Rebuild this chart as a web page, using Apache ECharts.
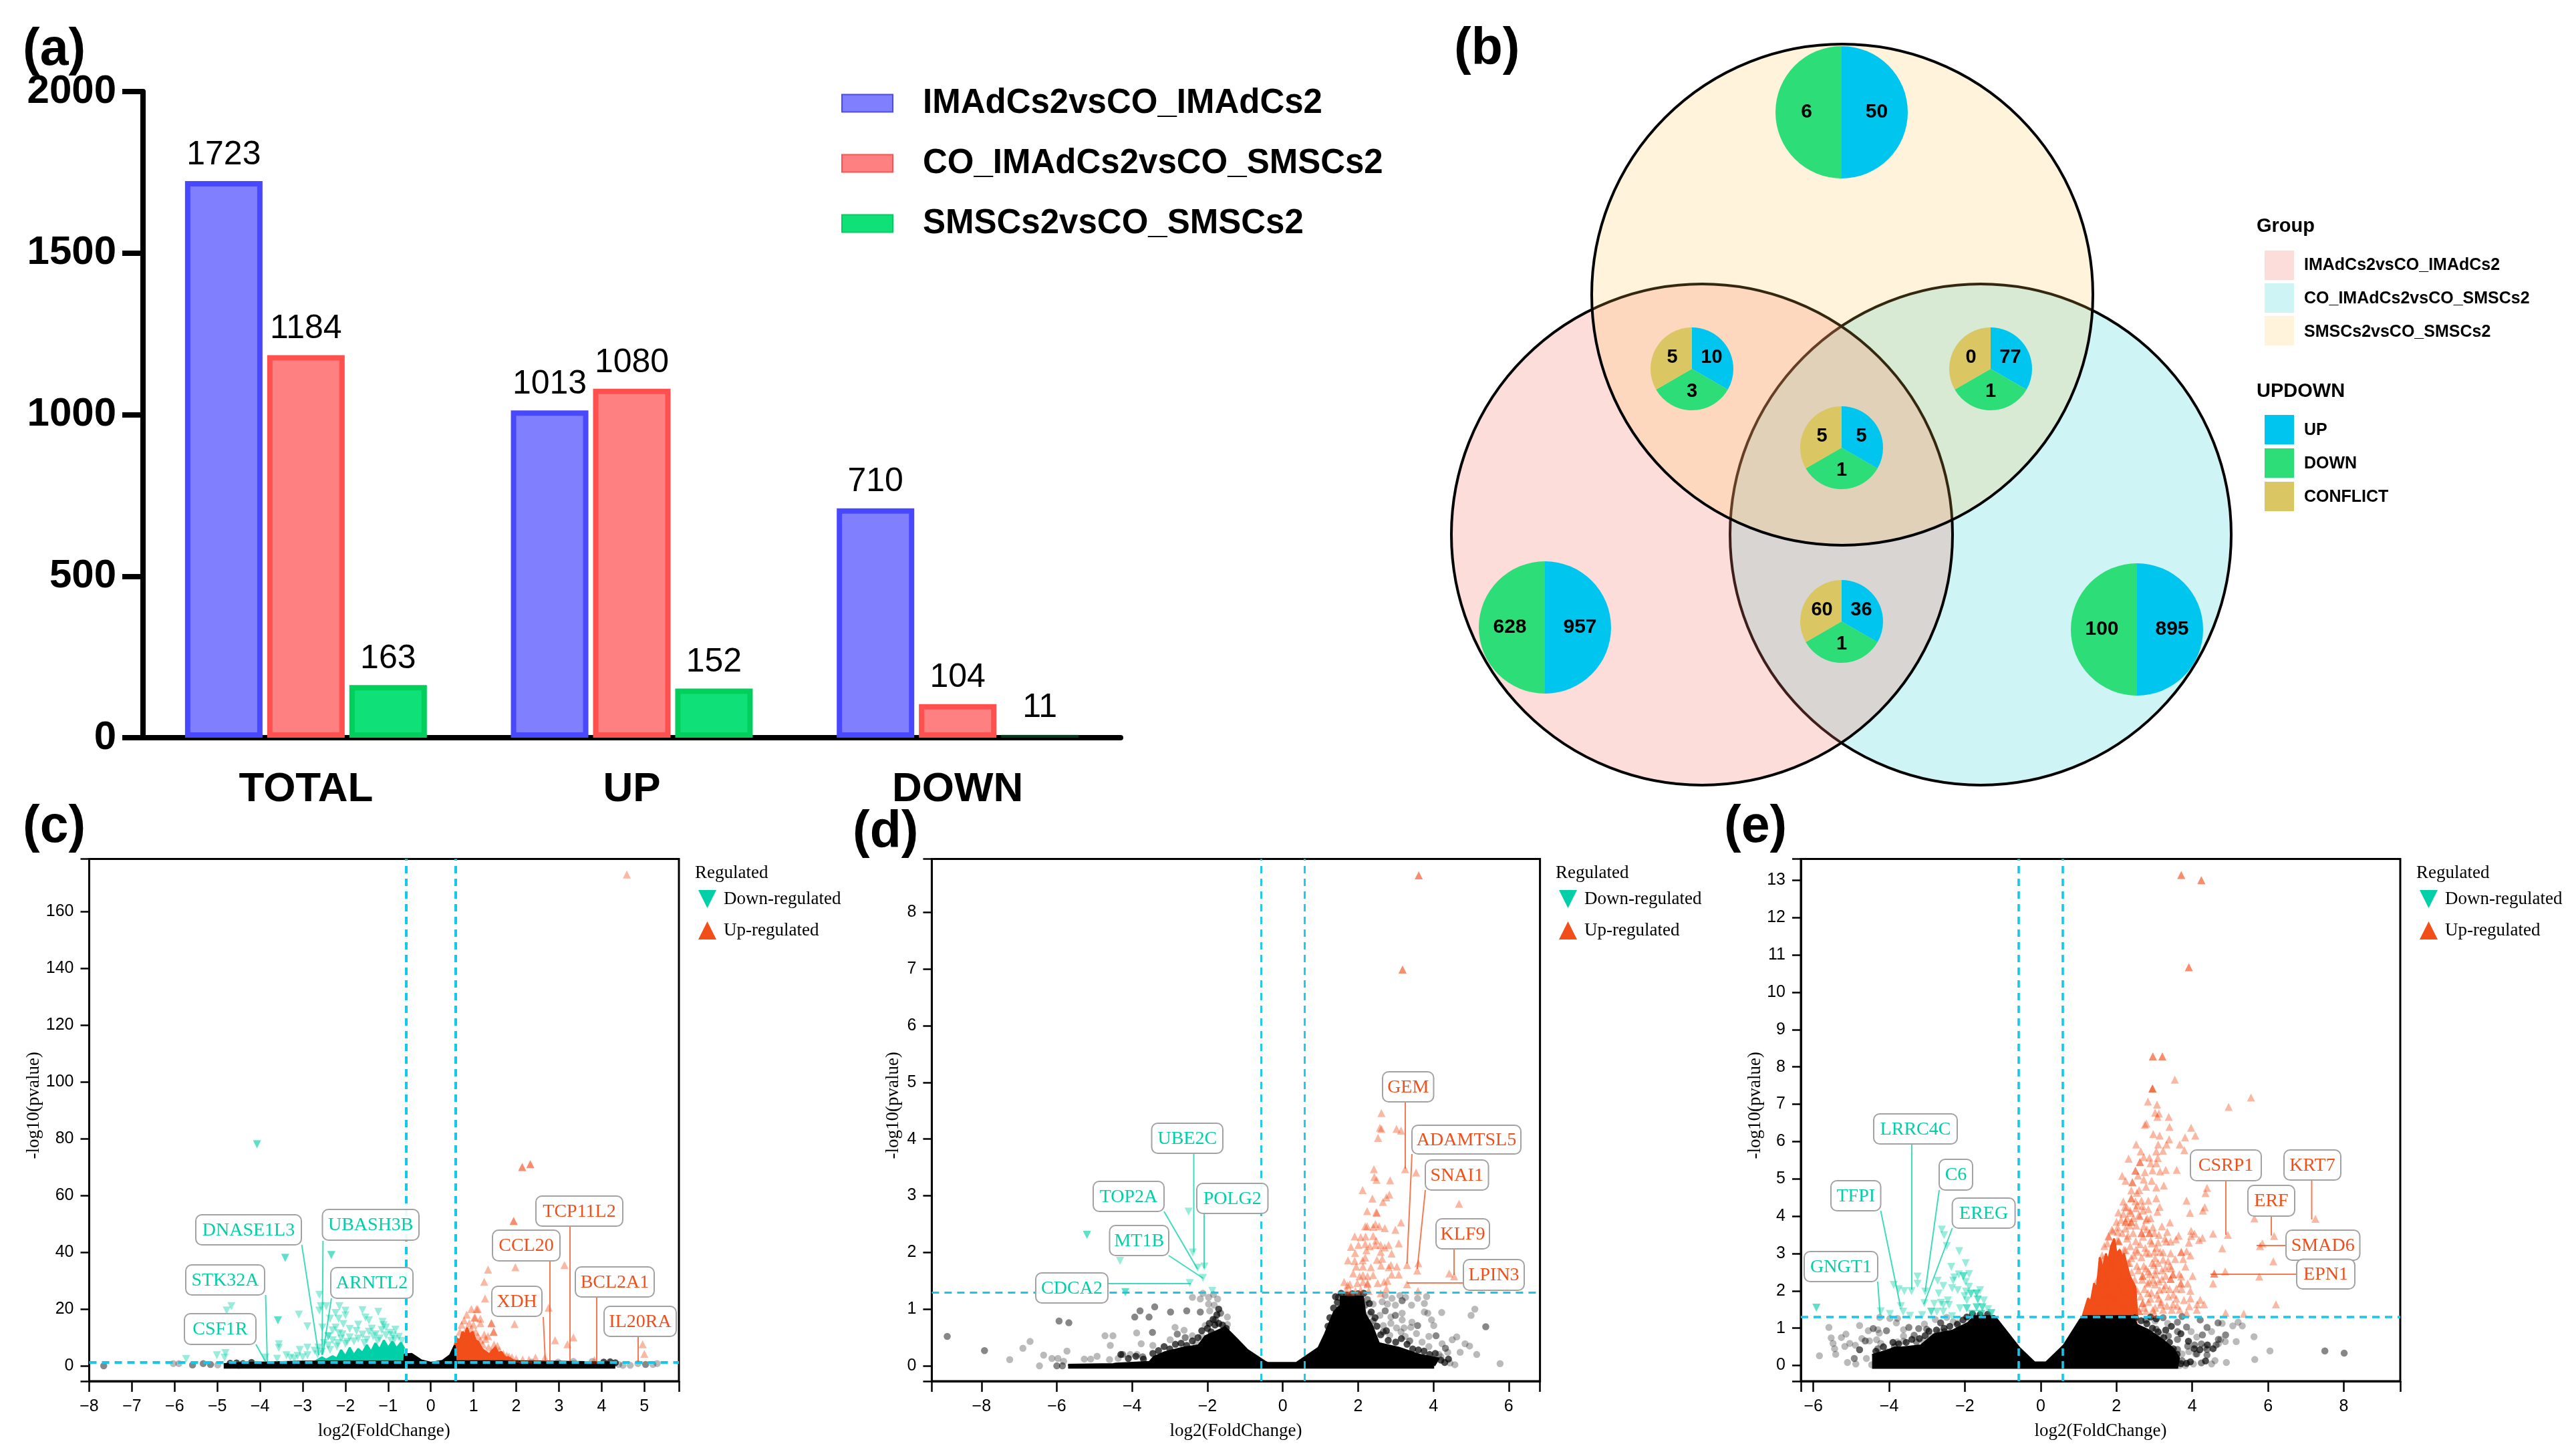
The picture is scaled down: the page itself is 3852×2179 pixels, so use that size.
<!DOCTYPE html>
<html><head><meta charset="utf-8">
<style>html,body{margin:0;padding:0;background:#fff}#c{width:3852px;height:2179px}</style>
<script src="https://cdn.jsdelivr.net/npm/echarts@6/dist/echarts.min.js"></script>
</head><body><div id="c"></div>
<script>
// ---------- panel (a) ----------
const barCategories=['TOTAL','UP','DOWN'];
const barNames=['IMAdCs2vsCO_IMAdCs2','CO_IMAdCs2vsCO_SMSCs2','SMSCs2vsCO_SMSCs2'];
const barImad=[1723,1013,710];
const barCoImad=[1184,1080,104];
const barSmsc=[163,152,11];
// ---------- panel (b) ----------
const vennNames=['IMAdCs2vsCO_IMAdCs2','CO_IMAdCs2vsCO_SMSCs2','SMSCs2vsCO_SMSCs2'];
const updownNames=['UP','DOWN','CONFLICT'];
const countTop=[50,6];
const countLeft=[957,628];
const countRight=[895,100];
const countTopLeft=[10,3,5];
const countTopRight=[77,1,0];
const countCentre=[5,1,5];
const countBottom=[36,1,60];
// ---------- panel (c) ----------
const cDown=[[-4.07,78],[-4.07,78],[-3.41,38],[-3.41,38],[-2.33,39],[-2.33,39],[-4.67,21],[-4.78,19.5],[-3.58,16],[-3.58,16],[-3.09,18],[-2.89,13.9],[-2.61,25],[-2.58,21],[-2.45,21],[-2.61,19.4],[-2.14,21],[-2,19.4],[-2.23,18.6],[-1.6,19.6],[-1.23,19],[-1.53,17],[-2,17.8],[-2.16,16.6],[-2.36,16.6],[-1.13,15.5],[-1.11,14.3],[-2.05,14.7],[-2.23,13.5],[-2.54,13.5],[-1.74,12.3],[-1.38,13.1],[-1.29,11.1],[-0.83,12.7],[-0.89,10.7],[-2.4,10.4],[-2.4,10.4],[-2.07,11.1],[-3.56,7.6],[-3.56,6.3],[-3.07,5.6],[-2.89,6.4],[-2.63,6.4],[-2.72,5.3],[-2.18,8],[-1.96,8.4],[-2.36,5.6],[-1.56,8],[-1.2,9.6],[-0.93,8.8],[-5.73,2.4],[-5.01,3.7],[-4.81,4.5],[-4.83,2.9],[-3.87,2.9],[-3.6,2.5],[-3.38,3.7],[-3.29,2.9],[-3.12,3.5],[-2.89,3.7],[-2.5,8],[-2.4,7.2],[-2.3,9],[-2.2,6.8],[-2.1,9.6],[-2,7.8],[-1.9,10],[-1.8,8.6],[-1.7,9.6],[-1.6,11],[-1.5,9.2],[-1.45,12],[-1.35,10.4],[-1.25,8.8],[-1.15,12.6],[-1.05,10.8],[-0.95,11.6],[-0.85,9.4],[-0.75,10.2],[-0.68,8.8],[-2.65,4],[-2.55,5],[-3,3],[-3.2,2.5],[-1.9,13],[-1.7,14.5],[-2.3,12.5],[-2.15,11.5],[-1.05,13.5],[-1.45,16]];
const cUp=[[4.59,173],[2.14,70],[2.14,70],[2.33,71],[2.33,71],[1.94,51],[1.94,51],[1.34,33.9],[1.98,34.7],[1.25,29.6],[3.13,35.5],[1.78,44],[1.27,23.7],[1.07,20],[1.02,17],[2.76,20.5],[1.96,14.7],[1.16,15],[1.42,15],[1.42,15],[1.47,12],[1.47,12],[1.34,10.4],[1.51,6],[1.51,6],[3.34,10],[2.91,9],[3.2,7.6],[4.96,7.6],[5,4.2],[2.45,2.9],[2.67,2.9],[1.83,3.3],[1.25,11],[1.16,16.6],[1.69,3.7],[3.83,2.1],[0.62,9],[0.68,12],[0.72,14.5],[0.78,16],[0.84,18],[0.9,15],[0.94,13],[1,14.5],[1.05,12],[1.1,10.5],[1.16,9],[1.22,7.5],[1.28,9.5],[1.35,6.5],[1.42,5],[1.48,7.5],[1.56,7],[1.6,5.5],[1.7,4.2],[1.78,3.6],[1.9,3],[2,2.4],[2.15,2.2],[2.3,2.2],[0.8,12],[1.04,17],[1.1,20],[0.95,20]];
const cNs=[[-7.66,0],[-7.66,0],[-6.03,0.8],[-5.9,0.8],[-5.58,0.3],[-5.58,0.3],[-5.33,0.8],[-5.33,0.8],[-5.16,0.5],[-5.16,0.5],[-4.99,0.3],[-4.67,0.5],[-4.5,0.2],[4.5,0.2],[4.67,0.2],[5.03,0.5],[5.03,0.5],[5.3,0.8],[5.2,0.5],[4.85,0.8],[2.36,1.3],[2.98,1.3],[3.34,1.57],[3.78,1.57],[4.4,0.5]];
const cNsEdge=[[-4.85,0.6],[-4.3,1],[-3,1.5],[-0.62,1.5],[-0.61,4],[-0.45,4.2],[-0.22,1.9],[0,1.1],[0.27,1.7],[0.45,3.7],[0.56,7.2],[0.58,1.6],[2,1.6],[4.32,1.2]];
const cNsDots=[[-4.7,0.9],[-4.55,1],[-4.4,0.8],[-4.2,1.2],[4.32,1.1],[4.2,1.4],[4.05,1.3]];
const cDownEdge=[[-2.72,1.5],[-2.55,3],[-2.45,2.2],[-2.3,3.4],[-2.2,2.6],[-2.1,5.6],[-2,3.4],[-1.9,6.4],[-1.8,3.8],[-1.7,6],[-1.6,4.6],[-1.5,7.4],[-1.4,5],[-1.3,8],[-1.2,5.8],[-1.1,9],[-1,6.4],[-0.9,8.6],[-0.8,6.2],[-0.7,8.2],[-0.62,6]];
const cUpEdge=[[0.56,7.2],[0.62,9.5],[0.68,9],[0.74,12],[0.8,11],[0.85,13.5],[0.9,11],[0.98,12],[1.05,9],[1.11,8.5],[1.2,6],[1.28,5],[1.38,4],[1.44,5.5],[1.51,6.4],[1.58,4.5],[1.65,4.9],[1.74,3],[1.83,2.9],[1.95,1.8],[2.05,1.7]];
// ---------- panel (d) ----------
const dDown=[[-5.2,2.31],[-5.2,2.31],[-4.32,1.85],[-2.5,2.72],[-2.39,2],[-2.26,1.73],[-2.08,1.75],[-2.12,1.55],[-2.47,1.46],[-4.18,1.3],[-4.18,1.3],[-1.87,1.32]];
const dUp=[[3.61,8.65],[3.61,8.65],[3.18,6.99],[3.18,6.99],[2.62,4.46],[2.58,4.2],[2.62,4.18],[3.02,4.18],[3.14,4.15],[2.53,4.02],[2.42,3.47],[2.43,3.33],[2.49,3.28],[2.85,3.27],[3.25,3.47],[3.54,3.41],[2.12,3.1],[2.38,2.95],[2.83,3.02],[2.75,2.97],[2.66,2.89],[4.68,2.86],[2.24,2.73],[2.48,2.71],[2.5,2.7],[3.14,2.53],[2.19,2.46],[2.24,2.46],[2.4,2.45],[2.46,2.5],[2.56,2.46],[2.71,2.43],[2.99,2.4],[1.91,2.28],[2.07,2.27],[2.2,2.28],[2.4,2.29],[2.48,2.21],[3.08,2.16],[2.81,2.13],[1.81,2.1],[2.01,2.13],[2.19,2.15],[2.31,2.11],[2.46,2.13],[2.6,2.13],[2.71,2.09],[1.92,1.99],[2.22,2.04],[2.6,2.01],[2.89,1.98],[1.73,1.86],[1.91,1.85],[2.19,1.91],[2.12,1.86],[2.5,1.87],[2.64,1.89],[1.95,1.75],[2.13,1.75],[2.34,1.74],[2.61,1.77],[2.81,1.74],[2.87,1.78],[3.03,1.75],[3.3,1.78],[3.6,1.81],[3.57,1.68],[1.87,1.63],[2.04,1.58],[2.4,1.6],[2.89,1.61],[3.08,1.61],[4.42,1.63],[4.55,1.58],[1.63,1.48],[1.78,1.44],[1.98,1.46],[2.13,1.48],[2.25,1.46],[2.52,1.46],[2.69,1.48],[2.78,1.5],[3.3,1.44],[2.75,1.36],[2.28,1.32],[2.6,1.28],[3.59,1.32],[1.69,1.34],[1.93,1.32],[2.07,1.34],[1.8,1.3],[2.25,1.58],[2.25,1.44],[2.13,1.6],[1.72,1.42]];
const dNs=[[-8.91,0.52],[-8.91,0.52],[-7.92,0.27],[-7.92,0.27],[-7.25,0.11],[-6.9,0.31],[-6.71,0.43],[-6.46,0],[-6.35,0.19],[-6.13,0.13],[-5.94,0.79],[-5.94,0.79],[-5.68,0.76],[-5.68,0.76],[-5.73,0.26],[-5.97,0.13],[-5.82,0.08],[-6,0],[-6,0],[-5.85,0],[-5.85,0],[-5.27,0.12],[-5.1,0.12],[-4.93,0.17],[-4.72,0.53],[-4.51,0.53],[-4.58,0.36],[-4.6,0.11],[-3.88,0.58],[-3.76,0.39],[-3.93,0.86],[-3.93,0.86],[-3.79,0.97],[-3.79,0.97],[-3.4,1.04],[-3.4,1.04],[-3.55,0.86],[-3.55,0.86],[-3.46,0.59],[-3.46,0.59],[-3.45,0.36],[-2.98,0.95],[-2.98,0.95],[-2.55,0.97],[-2.55,0.97],[-2.19,0.95],[-2.19,0.95],[-2.4,1.21],[-2.19,1.18],[-2.12,1.28],[-1.97,1.21],[-1.84,1.26],[-1.73,1.18],[-1.97,1.09],[-1.82,1.07],[-1.94,0.97],[-1.65,0.93],[-1.65,0.93],[-1.47,0.86],[-1.79,0.81],[-1.79,0.81],[-2.06,0.71],[-1.47,0.73],[-2.86,0.68],[-2.8,0.56],[-2.8,0.56],[-2.62,0.63],[-2.59,0.5],[-2.59,0.5],[-2.4,0.53],[-2.99,0.46],[-2.3,0.4],[-2.15,0.52],[-4.25,0.2],[-4.25,0.2],[-4.05,0.2],[-3.87,0.2],[-3.72,0.16],[-3.72,0.16],[-4.37,0.13],[2.9,1.19],[3.11,1.24],[3.26,1.21],[3.58,1.19],[3.82,1.22],[3.76,1.1],[3.42,1.07],[3.17,1.15],[3.17,1.15],[2.99,1.07],[2.64,1.13],[2.4,1.09],[2.72,1.24],[2.78,1.09],[2.72,0.97],[2.72,0.97],[2.58,0.89],[2.99,0.89],[2.99,0.89],[3.17,0.93],[3.17,0.81],[2.87,0.86],[3.43,0.77],[3.76,0.95],[3.85,0.93],[3.95,0.81],[4.22,0.94],[4.01,0.71],[3.58,0.71],[3.58,0.71],[3.4,0.68],[3.22,0.67],[3.02,0.67],[2.87,0.75],[2.67,0.6],[2.67,0.6],[2.84,0.54],[3.14,0.6],[3.55,0.57],[3.25,0.52],[3.37,0.44],[3.37,0.44],[3.7,0.42],[3.88,0.52],[4.07,0.53],[4.07,0.53],[4.23,0.39],[4.32,0.31],[4.32,0.31],[4.5,0.46],[4.62,0.51],[4.84,0.39],[4.96,0.35],[4.71,0.24],[5.15,0.2],[4.57,0.02],[5.77,0.04],[5,0.89],[5.1,1],[5.39,0.69],[5.39,0.69],[4.38,0.24],[3.88,0.34],[4.2,0.16],[4.44,0.05],[4.15,0.2],[1.48,1.21],[1.48,1.21],[1.78,1.21],[1.78,1.21],[1.78,1.21],[2.25,1.17],[2.25,1.17],[2.19,1.07],[2.19,1.07],[2.3,0.91],[2.4,0.79],[2.4,0.79],[2.67,0.71],[1.42,0.93]];
const dNsEdge=[[-5.7,0.02],[-4.5,0.03],[-4.43,0.04],[-3.54,0.07],[-3.42,0.16],[-3.13,0.24],[-2.65,0.32],[-2.24,0.36],[-2.06,0.52],[-1.53,0.68],[-1.23,0.48],[-0.94,0.28],[-0.46,0.07],[-0.4,0.05],[0.36,0.05],[0.95,0.32],[1.12,0.56],[1.36,0.95],[1.54,1.07],[1.54,1.22],[2.13,1.22],[2.19,0.91],[2.37,0.71],[2.55,0.4],[3.08,0.32],[3.61,0.2],[4.14,0.13],[4.02,0]];
const dNsDots=[[-4.3,0.2],[-4.1,0.13],[-3.9,0.17],[-3.7,0.12],[-3.45,0.22],[-3.3,0.27],[-3.15,0.34],[-3,0.3],[-2.85,0.38],[-2.7,0.4],[-2.55,0.36],[-2.4,0.44],[-2.25,0.5],[-2.15,0.62],[-2,0.66],[-1.9,0.6],[-1.8,0.72],[-1.7,0.75],[-1.75,0.9],[-1.85,0.82],[-1.6,0.72],[-1.5,0.66],[-1.95,0.75],[-1.7,1],[1.25,0.85],[1.2,0.7],[1.35,1.02],[1.45,1.12],[1.5,1],[1.4,1.22],[1.55,1.28],[1.7,1.25],[1.85,1.27],[2,1.27],[2.15,1.28],[2.3,1.1],[2.35,0.95],[2.45,0.85],[2.5,0.7],[2.6,0.55],[2.8,0.45],[2.75,0.62],[3,0.42],[3.15,0.48],[3.3,0.38],[3.45,0.3],[3.6,0.28],[3.75,0.26],[3.9,0.2],[4.05,0.22],[4.2,0.1],[4.3,0.06],[4.4,0.12]];
// ---------- panel (e) ----------
const eDown=[[-5.92,1.55],[-5.92,1.55],[-2.61,3.64],[-2.55,3.49],[-2.48,3.2],[-2.15,3.06],[-1.98,2.74],[-2.36,2.64],[-2.16,2.44],[-2.04,2.39],[-2.04,2.39],[-1.89,2.45],[-2.28,2.36],[-2.31,2.27],[-2.72,2.27],[-3.25,2.38],[-3.25,2.19],[-3.88,2.16],[-3.75,2.04],[-3.6,1.99],[-3.41,1.99],[-3.05,1.98],[-2.69,1.93],[-2.57,2.13],[-2.34,2.07],[-2.19,2.02],[-1.98,2.24],[-1.89,2.11],[-1.97,1.98],[-1.84,1.92],[-1.84,1.92],[-1.69,1.93],[-1.69,1.93],[-1.6,2.02],[-2.81,1.65],[-3.07,1.67],[-3.69,1.59],[-2.63,1.68],[-2.45,1.74],[-2.42,1.62],[-2.57,1.62],[-2.01,1.86],[-1.95,1.74],[-1.66,1.77],[-1.66,1.77],[-1.5,1.74],[-2.13,1.53],[-1.95,1.53],[-1.95,1.53],[-1.54,1.56],[-1.54,1.56],[-1.69,1.56],[-1.69,1.56],[-1.39,1.51],[-2.89,1.44],[-2.89,1.44],[-2.74,1.44],[-2.57,1.44],[-2.34,1.32],[-3.63,1.44],[-3.98,1.38],[-4.22,1.45],[-3.45,1.33],[-3.13,1.35],[-1.81,1.38],[-1.81,1.38],[-1.3,1.4],[-1.3,1.4],[-1.57,1.38],[-1.57,1.38]];
const eUp=[[3.71,13.14],[3.71,13.14],[4.24,13],[4.24,13],[3.91,10.67],[3.91,10.67],[2.96,8.28],[2.96,8.28],[3.21,8.28],[3.21,8.28],[3.54,7.66],[2.95,7.42],[2.95,7.42],[2.95,7.42],[5.55,7.18],[4.96,6.93],[2.83,7.07],[3.07,6.99],[3.02,6.77],[3.12,6.75],[3.08,6.66],[3.38,6.66],[2.79,6.48],[2.75,6.45],[3.4,6.39],[3.97,6.37],[2.97,6.2],[3.14,6.16],[4.08,6.16],[3.81,6.11],[3.39,6.06],[2.52,5.92],[3.1,5.92],[3.32,5.92],[3.67,5.92],[2.64,5.74],[3.05,5.74],[3.23,5.75],[3.79,5.77],[2.32,5.54],[2.72,5.58],[2.87,5.57],[3.09,5.56],[2.62,5.45],[2.62,5.45],[2.9,5.42],[3.05,5.42],[3.59,5.24],[2.5,5.22],[2.5,5.22],[2.75,5.18],[2.95,5.23],[3.15,5.2],[3.3,5.24],[2.15,5.08],[2.24,4.95],[2.57,5.09],[2.42,4.91],[2.42,4.91],[2.72,4.98],[2.93,4.95],[3.25,4.82],[2.78,4.79],[3.05,4.77],[4.39,4.76],[4.35,4.62],[2.39,4.69],[2.54,4.63],[3.05,4.48],[3.85,4.42],[2.18,4.39],[2.39,4.48],[2.39,4.48],[2.66,4.42],[2.84,4.42],[2.27,4.24],[2.51,4.21],[2.69,4.27],[2.84,4.19],[3.14,4.25],[3.08,4.12],[4.33,4.24],[4.28,4.15],[3.94,4.09],[2.18,4.06],[2.37,4.09],[2.59,4.03],[2.81,3.94],[2.24,3.85],[2.24,3.85],[2.39,3.85],[2.39,3.85],[3.41,3.83],[5.64,3.94],[7.25,3.93],[1.88,3.64],[2.03,3.7],[2.24,3.67],[2.72,3.73],[2.96,3.7],[3.2,3.73],[1.79,3.47],[2.03,3.58],[2.3,3.48],[2.66,3.55],[2.66,3.55],[2.87,3.55],[2.87,3.55],[3.12,3.5],[3.34,3.58],[3.97,3.61],[4.06,3.53],[3.97,3.47],[3.64,3.48],[4.55,3.53],[4.94,3.5],[6.16,3.47],[4.27,3.42],[4.18,3.36],[3.57,3.38],[3.43,3.32],[3.31,3.32],[3.91,3.29],[1.76,3.27],[2.06,3.33],[2.06,3.33],[2.51,3.33],[2.93,3.27],[5.85,3.27],[5.79,3.2],[4.79,3.14],[3.05,3.15],[2.78,3.03],[2.24,3.09],[2.51,3.1],[3.85,3.06],[3.71,3.04],[3.71,3.04],[3.95,2.95],[3.43,3.01],[3.23,3.03],[1.65,2.85],[2.39,2.88],[3.02,2.88],[3.23,2.84],[3.76,2.85],[6.14,2.79],[2.99,2.7],[3.41,2.67],[3.29,2.61],[2.54,2.67],[2.72,2.67],[2.84,2.52],[4.87,2.52],[4.58,2.46],[4.58,2.46],[3.49,2.44],[3.49,2.44],[2.69,2.4],[2.69,2.4],[3.03,2.44],[4.01,2.4],[3.71,2.38],[5.77,2.38],[3.2,2.32],[3.43,2.32],[3.43,2.32],[4.55,2.2],[2.87,2.24],[3.02,2.17],[3.29,2.15],[3.7,2.2],[3.7,2.2],[3.58,2.06],[3.95,2],[2.48,2.06],[2.83,1.94],[3.14,2.03],[3.37,1.85],[3.58,1.79],[4.21,1.76],[3.11,1.79],[2.9,1.79],[2.69,1.67],[2.69,1.67],[3.17,1.63],[3.49,1.64],[3.92,1.59],[4.13,1.64],[4.31,1.64],[6.21,1.64],[4.12,1.49],[2.96,1.49],[3.23,1.49],[3.46,1.49],[3.85,1.41],[4.88,1.41],[5.36,1.39],[2.6,1.46],[2.6,1.46],[3.67,1.49],[2.24,1.52],[2.51,1.58],[2.78,1.46],[3,1.39],[1.3,1.5],[1.38,1.8],[1.45,1.45],[1.5,2.3],[1.55,1.7],[1.62,2.95],[1.68,3.2],[1.7,2.4],[1.75,1.55],[1.8,3.45],[1.85,2.7],[1.9,3.6],[1.95,1.8],[2,3.85],[2.02,3.35],[2.08,3.05],[2.12,2.4],[2.15,3.55],[2.18,1.6],[2.2,3.1],[2.22,2.05],[2.28,3.4],[2.3,2.75],[2.32,1.95],[2.35,3.75],[2.36,3.2],[2.4,2.5],[2.42,1.75],[2.44,3.55],[2.46,2.95],[2.48,2.3],[2.5,4.4],[2.52,3.75],[2.55,2],[2.56,3.05],[2.58,2.55],[2.6,4.7],[2.62,3.25],[2.64,1.85],[2.66,2.9],[2.68,2.3],[2.7,3.45],[2.72,1.55],[2.74,2.05],[2.76,3.15],[2.78,2.6],[2.8,3.65],[2.82,2.2],[2.84,1.7],[2.86,3],[2.88,2.45],[2.9,3.35],[2.92,1.95],[2.94,2.75],[2.97,2.3],[3,3.05],[3.02,1.55],[3.04,2.55],[3.07,1.9],[3.1,2.75],[3.12,2.25],[3.15,3.05],[3.18,1.7],[3.2,2.55],[3.25,2.05],[3.28,3.4],[3.3,2.4],[3.33,1.6],[3.36,2.8],[3.4,2.05],[3.45,2.6],[3.5,1.9],[3.55,2.85],[3.6,1.6],[3.66,2.45],[3.72,2.05],[3.78,1.75],[3.82,2.65],[3.88,2.2],[3.95,1.8],[2.05,4.1],[2.12,3.9],[2.22,4.25],[2.28,3.95],[2.36,4.15],[2.45,3.95],[2.55,4.3],[2.62,4],[2.7,4.15],[2.78,3.9],[2.9,3.95],[3,3.55],[3.1,3.3],[1.58,2.3],[1.66,1.8],[1.74,2.2],[1.82,1.9],[1.9,2.5],[1.98,2.2],[2.06,1.7],[2.14,1.95],[2.26,2.4],[2.34,2.75],[2.4,1.5]];
const eNs=[[-5.59,1.02],[-5.53,0.74],[-5.48,0.59],[-5.44,0.45],[-5.41,0.3],[-5.84,0.26],[-5.26,0.75],[-5.14,0.84],[-5.17,0.51],[-5.04,0.59],[-4.89,0.54],[-5.1,0.08],[-4.88,0.04],[-4.92,0.19],[-4.92,0.19],[-4.78,0.42],[-4.78,0.42],[-4.78,0.42],[-4.78,1.07],[-4.72,0.72],[-4.63,0.66],[-4.63,0.66],[-4.55,0.93],[-4.52,0.66],[-4.42,0.99],[-4.42,0.99],[-4.3,0.96],[-4.26,0.87],[-4.07,0.93],[-4.07,0.93],[-4.33,0.69],[-4.22,0.59],[-4.3,0.45],[-4.3,0.45],[-4.6,0.19],[-4.46,0.02],[-4.25,1.29],[-3.98,1.26],[-3.78,1.26],[-3.81,1.14],[-3.62,0.96],[-3.48,1.02],[-3.48,1.02],[-3.62,0.79],[-3.78,0.63],[-3.62,0.65],[-3.34,0.81],[-3.34,0.81],[-3.22,0.99],[-3.22,0.99],[-3.07,1.11],[-3.01,0.97],[-3.01,0.97],[-3.28,0.63],[-3.28,0.63],[-3.1,0.66],[-2.89,0.78],[-2.78,1.23],[-2.64,1.14],[-2.64,1.14],[-2.64,1.14],[-2.48,1.29],[-2.66,0.9],[-2.54,0.91],[-2.54,0.91],[-2.31,1.17],[-2.19,1.14],[-3.86,0.5],[-3.86,0.5],[-4.04,0.36],[-4.04,0.36],[-4.1,0.04],[-4.26,0.02],[3.02,1.19],[2.78,1.22],[2.78,1.22],[3.23,1.28],[3.23,1.28],[3.35,1.13],[3.61,1.16],[3.61,1.16],[3.73,1.31],[3.73,1.31],[4.21,1.22],[4.21,1.22],[4.39,1.02],[4.39,1.02],[4.68,1.14],[4.68,1.14],[4.79,1.13],[5.07,1.06],[5.21,1.16],[5.32,1.06],[5.63,0.77],[5.16,0.64],[6.05,0.39],[5.65,0.16],[7.5,0.39],[7.5,0.39],[8.01,0.33],[8.01,0.33],[4.9,0.08],[4.88,0.82],[4.88,0.82],[4.87,0.64],[4.69,0.7],[4.69,0.7],[4.51,0.91],[4.27,0.82],[4.27,0.82],[4.12,0.76],[3.97,0.91],[3.85,1.03],[3.85,1.03],[3.61,0.91],[3.61,0.91],[3.37,0.79],[3.37,0.79],[3.05,0.97],[3.05,0.97],[2.96,0.79],[2.96,0.79],[3.17,0.82],[3.61,0.7],[3.61,0.7],[3.88,0.52],[3.88,0.52],[4.06,0.55],[4.06,0.55],[4.24,0.58],[4.24,0.58],[4.39,0.43],[4.39,0.43],[4.63,0.55],[4.63,0.55],[4.12,0.31],[4.12,0.31],[4.39,0.28],[4.39,0.28],[3.73,0.13],[3.73,0.13],[4.03,0.04],[4.24,0.07],[4.24,0.07],[4.51,0.04],[4.6,0.13],[3.67,0],[3.82,0],[3.61,0.43],[3.61,0.43],[3.73,0.31],[3.91,0.37],[4.09,0.31],[4.33,0.49],[4.69,0.58],[4.75,0.7]];
const eNsEdge=[[-4.45,0.28],[-4.3,0.33],[-4.05,0.4],[-3.85,0.48],[-3.69,0.48],[-3.16,0.54],[-2.81,0.84],[-2.34,0.93],[-1.92,1.14],[-1.75,1.32],[-1.22,1.32],[-0.57,0.48],[-0.16,0.08],[0.14,0.08],[0.61,0.54],[1.02,1.2],[1.11,1.32],[2.42,1.32],[2.54,1.09],[2.84,0.95],[3.2,0.7],[3.5,0.45],[3.65,0.2],[3.6,-0.08]];
const eNsDots=[[-4.35,0.38],[-4.15,0.5],[-3.9,0.62],[-3.75,0.58],[-3.55,0.62],[-3.4,0.7],[-3.2,0.72],[-3.05,0.8],[-2.95,0.92],[-2.75,0.95],[-2.55,1],[-2.4,1.05],[-2.2,1.1],[-2.05,1.22],[-1.95,1.3],[-1.8,1.38],[-1.6,1.36],[-1.4,1.37],[2.5,1.28],[2.65,1.2],[2.8,1.12],[2.95,1],[3.1,0.9],[3.25,0.75],[3.4,0.62],[3.5,0.45],[3.6,0.3],[3.55,0.15],[3.7,0.05],[3.85,0.06],[2.9,1.3],[3.05,1.25],[3.3,0.95],[3.45,1.05],[3.7,0.85],[3.9,0.65],[4.05,0.45],[4.2,0.42],[4.4,0.55],[4.55,0.45],[4.35,0.12],[3.95,0.1]];
const eUpEdge=[[1.1,1.3],[1.25,1.8],[1.32,1.7],[1.41,2.2],[1.48,2.05],[1.56,2.9],[1.64,2.6],[1.72,3],[1.78,2.8],[1.86,3.2],[1.94,3.4],[2,3],[2.09,3.1],[2.14,2.9],[2.2,3],[2.27,2.7],[2.35,2.4],[2.5,2.1],[2.55,1.3]];
// gene labels
const cGenes=['DNASE1L3','UBASH3B','STK32A','ARNTL2','CSF1R','TCP11L2','CCL20','BCL2A1','XDH','IL20RA'];
const dGenes=['UBE2C','TOP2A','POLG2','MT1B','CDCA2','GEM','ADAMTSL5','SNAI1','KLF9','LPIN3'];
const eGenes=['LRRC4C','C6','TFPI','EREG','GNGT1','CSRP1','KRT7','ERF','SMAD6','EPN1'];

// ---------- layout (pixels) ----------
const TEAL='#00CFA8',RED='#F24E1A',CY='#14C8EA';
const BOX={ // x0,x1,y0,y1 then connector x0,y0,x1,y1
 DNASE1L3:[293,451,1818,1863,451.6,1863,477,2028],UBASH3B:[482.5,627,1810,1856,483.4,1857,482,2028],STK32A:[278,396,1893,1938,397.5,1938,400,2038],ARNTL2:[495,618,1897,1943,496,1943,483,2027],CSF1R:[276,383,1966,2012,383,2012,397.5,2038],
 TCP11L2:[802,932,1790,1835,853,1835,853,2037],CCL20:[737,838,1841,1887,823,1887,823,2038],BCL2A1:[861,979,1896,1941,893,1942,893,2038],XDH:[736,811,1925,1970,813,1971,816,2037],IL20RA:[904,1012,1955,2000,955,2000,955,2038],
 UBE2C:[1723.5,1830,1681,1726,1786.5,1726,1786.5,1874],TOP2A:[1636,1742,1768,1813,1742,1813,1792,1899],POLG2:[1791,1897.5,1771,1816,1802,1816,1802,1898],MT1B:[1660.5,1749,1834,1879,1749,1879,1800.6,1913],CDCA2:[1550,1658,1905,1950,1658,1921,1782,1921],
 GEM:[2069,2145.5,1604,1649,2103,1649,2103,1749],ADAMTSL5:[2113,2276,1684,1727,2113,1727,2105.6,1891],SNAI1:[2133,2227.5,1736,1781,2133,1781,2121,1899],KLF9:[2149,2229,1824,1869,2176,1869,2176,1908],LPIN3:[2190,2281,1885,1931,2190,1920,2105.6,1920],
 LRRC4C:[2804,2929,1667,1712,2861,1712,2861,1930],C6:[2902,2952,1735,1781,2902,1781,2881,1933],TFPI:[2740,2814.5,1767,1812,2814.5,1812,2844,1955],EREG:[2921.6,3015.6,1793,1838,2921.6,1838,2879,1952],GNGT1:[2700,2810,1873,1918,2810,1918,2813.6,1967.5],
 CSRP1:[3278,3384,1721,1767,3331,1767,3331,1848],KRT7:[3418,3503,1721,1766,3459.5,1766,3459.5,1825],ERF:[3364,3434,1774,1820,3399,1820,3399,1849],SMAD6:[3421,3531.5,1841,1886,3421,1864,3377,1864],EPN1:[3437,3524,1884.5,1929,3437,1907,3308,1907]
};
const SERIF='"Liberation Serif",serif', SANS='"Liberation Sans",sans-serif';
const graphic=[];
function txt(t,x,y,font,fill,align,extra){graphic.push(Object.assign({type:'text',z:100,x,y,style:{text:t,font,fill:fill||'#000',textAlign:align||'left',textVerticalAlign:'middle'}},extra||{}));}
[['(a)',34,76],['(b)',2176,75],['(c)',34,1239],['(d)',1276,1247],['(e)',2580,1239]].forEach(p=>txt(p[0],p[1],p[2],'bold 77px '+SANS));
function geneLabels(list,color){list.forEach(g=>{const b=BOX[g];
 graphic.push({type:'line',z:99,shape:{x1:b[4],y1:b[5],x2:b[6],y2:b[7]},style:{stroke:color,lineWidth:2,opacity:.75}});
 graphic.push({type:'rect',z:100,shape:{x:b[0],y:b[2],width:b[1]-b[0],height:b[3]-b[2],r:9},style:{fill:'rgba(255,255,255,.9)',stroke:'#a2a2a2',lineWidth:2}});
 txt(g,(b[0]+b[1])/2,(b[2]+b[3])/2+1,'28px '+SERIF,color,'center');});}
geneLabels(cGenes.slice(0,5),TEAL);geneLabels(cGenes.slice(5),RED);
geneLabels(dGenes.slice(0,5),TEAL);geneLabels(dGenes.slice(5),RED);
geneLabels(eGenes.slice(0,5),TEAL);geneLabels(eGenes.slice(5),RED);
// venn legends
const groupCol=['#FDDDDA','#CFF4F5','#FFF3DC'],udCol=['#00C5EE','#2CDD78','#DBC664'];
txt('Group',3377,339,'bold 29px '+SANS);txt('UPDOWN',3377,586,'bold 29px '+SANS);
[[375,397],[424,447],[473,497]].forEach((p,i)=>{graphic.push({type:'rect',z:100,shape:{x:3389,y:p[0],width:44,height:44},style:{fill:groupCol[i]}});txt(vennNames[i],3448,p[1],'bold 25px '+SANS);});
[[621,644],[671,694],[721,744]].forEach((p,i)=>{graphic.push({type:'rect',z:100,shape:{x:3389,y:p[0],width:44,height:44},style:{fill:udCol[i]}});txt(updownNames[i],3448,p[1],'bold 25px '+SANS);});
['c','d','e'].forEach((k,i)=>{const x=[1040,2328,3616][i];txt('Regulated',x,1307,'27px '+SERIF);});

const grid=[
 {left:214,top:137,width:1463,height:967},
 {left:2172,top:66,width:1170,height:1110},
 {left:133.5,top:1285.5,width:882.5,height:781.5,show:true,borderColor:'#000',borderWidth:3},
 {left:1394.4,top:1285.5,width:910.2,height:781.5,show:true,borderColor:'#000',borderWidth:3},
 {left:2695,top:1285.5,width:897,height:781.5,show:true,borderColor:'#000',borderWidth:3}
];
const fmt=v=>Number.isInteger(+v)?String(v).replace('-','\u2212'):'';
function vx(i,min,max,split){return{type:'value',gridIndex:i,min,max,splitNumber:split,splitLine:{show:false},name:'log2(FoldChange)',nameLocation:'middle',nameGap:61,nameTextStyle:{fontFamily:SERIF,fontSize:27,color:'#000'},axisLine:{onZero:false,lineStyle:{color:'#000',width:3}},axisTick:{length:16,lineStyle:{color:'#000',width:2.5}},axisLabel:{formatter:fmt,margin:26,fontFamily:SANS,fontSize:25,color:'#000',showMinLabel:true,showMaxLabel:true}};}
function vy(i,min,max,split,gap){return{type:'value',gridIndex:i,min,max,splitNumber:split,splitLine:{show:false},name:'-log10(pvalue)',nameLocation:'middle',nameGap:gap,nameTextStyle:{fontFamily:SERIF,fontSize:27,color:'#000',padding:[0,0,0,44]},axisLine:{onZero:false,lineStyle:{color:'#000',width:3}},axisTick:{length:13,lineStyle:{color:'#000',width:2.5}},axisLabel:{formatter:fmt,margin:23,fontFamily:SANS,fontSize:25,color:'#000'}};}
const xAxis=[
 {type:'category',gridIndex:0,data:barCategories,axisLine:{lineStyle:{color:'#000',width:8}},axisTick:{alignWithLabel:true,length:32,lineStyle:{color:'#000',width:6}},axisLabel:{margin:47,fontFamily:SANS,fontWeight:'bold',fontSize:62,color:'#000'}},
 {type:'value',gridIndex:1,min:0,max:1170,show:false},
 vx(2,-8,5.81,14),vx(3,-9.32,6.83,8),vx(4,-6.33,9.49,8)
];
const yAxis=[
 {type:'value',gridIndex:0,min:0,max:2000,interval:500,splitLine:{show:false},axisLine:{show:true,lineStyle:{color:'#000',width:8}},axisTick:{show:true,length:31,lineStyle:{color:'#000',width:8}},axisLabel:{margin:40,fontFamily:SANS,fontWeight:'bold',fontSize:60,color:'#000',formatter:v=>String(v)}},
 {type:'value',gridIndex:1,min:0,max:1110,inverse:true,show:false},
 vy(2,-5.4,178.5,9,68),vy(3,-0.27,8.94,9,44),vy(4,-0.42,13.57,14,55)
];
const series=[];
const barStyles=[['#8080FF','#4848FF'],['#FF8080','#FF5050'],['#10E078','#00CF5C']];
[barImad,barCoImad,barSmsc].forEach((d,i)=>series.push({type:'bar',name:barNames[i],xAxisIndex:0,yAxisIndex:0,barWidth:116,barGap:'6%',
 data:d.map(v=>v<50?{value:v,itemStyle:{borderWidth:0,color:'rgba(16,224,120,.25)'}}:v),itemStyle:{color:barStyles[i][0],borderColor:barStyles[i][1],borderWidth:8},
 label:{show:true,position:'top',distance:14,fontFamily:SANS,fontSize:50,color:'#000'}}));
// venn circles
const vennCircles=[[792,734,1],[375,734,0],[585,375,2]]; // layout in the venn grid
const vennFill=['rgba(248,118,109,.25)','rgba(15,200,205,.2)','rgba(255,195,80,.2)'];
vennCircles.forEach(c=>series.push({type:'scatter',name:vennNames[c[2]]+' set',xAxisIndex:1,yAxisIndex:1,symbol:'circle',symbolSize:750,silent:true,data:[[c[0],c[1]]],itemStyle:{color:vennFill[c[2]],borderColor:'#000',borderWidth:4,opacity:1},z:2}));
function pie(cx,cy,r,counts,fs){series.push({type:'pie',center:[cx,cy],radius:[0,r],startAngle:90,clockwise:true,silent:true,z:5,avoidLabelOverlap:false,animation:false,minAngle:0,
 label:{show:true,position:'inside',formatter:p=>String(p.data.count),fontFamily:SANS,fontWeight:'bold',fontSize:fs,color:'#000'},labelLine:{show:false},
 data:counts.map((c,i)=>({name:updownNames[i],value:1,count:c,itemStyle:{color:udCol[i]}}))});}
pie(2756,168,99,countTop,30);pie(2312,939,99,countLeft,30);pie(3198,942,99,countRight,30);
pie(2532,552,62,countTopLeft,29);pie(2979,552,62,countTopRight,29);pie(2756,670,62,countCentre,29);pie(2756,930,62,countBottom,29);
function area(i,name,data,color,origin,z){series.push({type:'line',name,xAxisIndex:i,yAxisIndex:i,data,showSymbol:false,silent:true,smooth:false,z,lineStyle:{width:3,color},itemStyle:{color},areaStyle:{color,opacity:1,origin}});}
function volcano(i,nsEdge,ns,nsDots,downEdge,down,upEdge,up,origin,dashW){
 if(downEdge.length)area(i,'down mass',downEdge,TEAL,0,2);
 if(upEdge.length)area(i,'up mass',upEdge,RED,0,2);
 area(i,'not significant mass',nsEdge,'#000',origin,3);
 series.push({type:'scatter',name:'Not significant (dense)',xAxisIndex:i,yAxisIndex:i,data:nsDots,symbol:'circle',symbolSize:10.5,itemStyle:{color:'#000',opacity:.7},z:3,silent:true});
 series.push({type:'scatter',name:'Not significant',xAxisIndex:i,yAxisIndex:i,data:ns,symbol:'circle',symbolSize:10.5,itemStyle:{color:'#000',opacity:.27},z:3,silent:true,
  markLine:{silent:true,symbol:'none',animation:false,label:{show:false},lineStyle:{color:CY,width:dashW,type:[11,8],opacity:1},data:[{xAxis:-0.585},{xAxis:0.585},{yAxis:1.3}],z:6}});
 series.push({type:'scatter',name:'Down-regulated',xAxisIndex:i,yAxisIndex:i,data:down,symbol:'triangle',symbolRotate:180,symbolSize:12,itemStyle:{color:TEAL,opacity:.4},z:4,silent:true});
 series.push({type:'scatter',name:'Up-regulated',xAxisIndex:i,yAxisIndex:i,data:up,symbol:'triangle',symbolSize:12,itemStyle:{color:RED,opacity:.4},z:4,silent:true});
}
volcano(2,cNsEdge,cNs,cNsDots,cDownEdge,cDown,cUpEdge,cUp,-1,4);
volcano(3,dNsEdge,dNs,dNsDots,[],dDown,[],dUp,-0.05,2.8);
volcano(4,eNsEdge,eNs,eNsDots,[],eDown,eUpEdge,eUp,-0.09,3.6);

const downIcon='path://M0,0 L14,0 L7,14 Z', upIcon='path://M7,0 L14,14 L0,14 Z';
function vLegend(left){return{orient:'vertical',left,top:1327,itemWidth:27,itemHeight:27,itemGap:20,selectedMode:false,symbolRotate:0,
 textStyle:{fontFamily:SERIF,fontSize:27,color:'#000',padding:[0,0,0,6]},itemStyle:{opacity:1},
 data:[{name:'Down-regulated',icon:downIcon,itemStyle:{color:TEAL,opacity:1}},{name:'Up-regulated',icon:upIcon,itemStyle:{color:RED,opacity:1}}]};}
const legend=[
 {orient:'vertical',left:1254,top:124,itemWidth:76,itemHeight:26,itemGap:39,selectedMode:false,icon:'rect',data:barNames,textStyle:{fontFamily:SANS,fontWeight:'bold',fontSize:51,color:'#000',padding:[0,0,0,40]}},
 vLegend(1040),vLegend(2328),vLegend(3616)
];
const chart=echarts.init(document.getElementById('c'),null,{renderer:'canvas',width:3852,height:2179});
chart.setOption({animation:false,backgroundColor:'#fff',textStyle:{fontFamily:SANS},grid,xAxis,yAxis,series,legend,graphic:{elements:graphic}});
</script></body></html>
